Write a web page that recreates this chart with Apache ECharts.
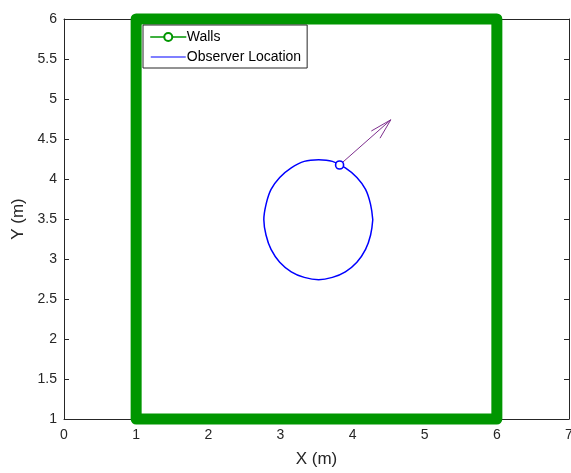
<!DOCTYPE html>
<html>
<head>
<meta charset="utf-8">
<script src="https://cdn.jsdelivr.net/npm/echarts@6/dist/echarts.min.js"></script>
<style>
  html, body { margin: 0; padding: 0; background: #fff; }
  #chart { width: 571px; height: 473px; }
</style>
</head>
<body>
<div id="chart"></div>
<script>
// Room boundary corners (m), traced as a closed outline
const wallX = [1, 1, 6, 6, 1];
const wallY = [1, 6, 6, 1, 1];

// Observer trajectory (m)
const pathX = [4.28, 4.25, 4.18, 4.06, 3.90, 3.72, 3.53, 3.33, 3.15, 2.99, 2.87, 2.80, 2.77,
               2.80, 2.87, 2.99, 3.15, 3.33, 3.53, 3.72, 3.90, 4.06, 4.18, 4.25, 4.28];
const pathY = [3.49, 3.68, 3.87, 4.02, 4.14, 4.22, 4.24, 4.22, 4.14, 4.02, 3.87, 3.68, 3.49,
               3.30, 3.12, 2.96, 2.84, 2.77, 2.74, 2.77, 2.84, 2.96, 3.12, 3.30, 3.49];

// Current observer position and heading vector
const obsPos = [3.82, 4.175];
const headTip = [4.53, 4.74];
const headBarbs = [[4.26, 4.60], [4.53, 4.74], [4.38, 4.51]];

const xTicks = { min: 0, max: 7, step: 1 };
const yTicks = { min: 1, max: 6, step: 0.5 };

const zip = (xs, ys) => xs.map((x, i) => [x, ys[i]]);

const axisColor = '#262626';
const wallColor = '#009600';
const pathColor = '#0000ff';
const headingColor = '#7e2f8e';
const labelFont = 'Liberation Sans, Arial, sans-serif';

const chart = echarts.init(document.getElementById('chart'), null, { renderer: 'canvas' });

const baseAxis = {
  axisLine: { show: true, onZero: false, lineStyle: { color: axisColor, width: 1 } },
  axisTick: { show: true, inside: true, length: 5, lineStyle: { color: axisColor } },
  splitLine: { show: false }
};

chart.setOption({
  animation: false,
  backgroundColor: '#ffffff',
  grid: { left: 64, right: 2, top: 19, bottom: 54, containLabel: false, outerBoundsMode: 'none' },
  legend: {
    orient: 'vertical',
    left: 143,
    top: 25,
    padding: [5, 6, 4, 7],
    itemGap: 6,
    itemWidth: 35,
    itemHeight: 10,
    backgroundColor: '#ffffff',
    borderColor: axisColor,
    borderWidth: 1,
    borderRadius: 0,
    textStyle: { fontFamily: labelFont, fontSize: 14, color: '#000', padding: [0, 0, 0, -4] },
    data: [
      { name: 'Walls', lineStyle: { width: 1.5, color: wallColor },
        itemStyle: { color: wallColor, borderColor: wallColor, borderWidth: 2 } },
      { name: 'Observer Location', lineStyle: { width: 1.2, color: pathColor },
        itemStyle: { opacity: 0 } }
    ]
  },
  xAxis: [
    Object.assign({}, baseAxis, {
      type: 'value', position: 'bottom', min: xTicks.min, max: xTicks.max, interval: xTicks.step,
      name: 'X (m)', nameLocation: 'middle', nameGap: 32,
      nameTextStyle: { fontFamily: labelFont, fontSize: 17, color: axisColor },
      axisLabel: { margin: 9, fontFamily: labelFont, fontSize: 14, color: axisColor }
    }),
    Object.assign({}, baseAxis, {
      type: 'value', position: 'top', min: xTicks.min, max: xTicks.max, interval: xTicks.step,
      axisLabel: { show: false }
    })
  ],
  yAxis: [
    Object.assign({}, baseAxis, {
      type: 'value', position: 'left', min: yTicks.min, max: yTicks.max, interval: yTicks.step,
      name: 'Y (m)', nameLocation: 'middle', nameGap: 37,
      nameTextStyle: { fontFamily: labelFont, fontSize: 17, color: axisColor },
      axisLabel: { margin: 7, fontFamily: labelFont, fontSize: 14, color: axisColor }
    }),
    Object.assign({}, baseAxis, {
      type: 'value', position: 'right', min: yTicks.min, max: yTicks.max, interval: yTicks.step,
      axisLabel: { show: false }
    })
  ],
  series: [
    {
      name: 'Walls',
      type: 'line',
      data: zip(wallX, wallY),
      clip: false,
      symbol: 'emptyCircle',
      symbolSize: 8,
      showSymbol: false,
      lineStyle: { color: wallColor, width: 11, cap: 'round', join: 'round' },
      itemStyle: { color: wallColor },
      z: 3
    },
    {
      name: 'Observer Location',
      type: 'line',
      data: zip(pathX, pathY),
      smooth: 0.4,
      symbol: 'circle',
      showSymbol: false,
      lineStyle: { color: pathColor, width: 1.5 },
      itemStyle: { color: pathColor },
      z: 4
    },
    {
      name: 'position',
      type: 'scatter',
      data: [obsPos],
      symbol: 'circle',
      symbolSize: 8,
      itemStyle: { color: '#ffffff', borderColor: pathColor, borderWidth: 1.6, opacity: 1 },
      z: 5
    },
    {
      name: 'heading',
      type: 'line',
      data: [obsPos, headTip],
      symbol: 'none',
      lineStyle: { color: headingColor, width: 1 },
      z: 4
    },
    {
      name: 'heading-head',
      type: 'line',
      data: headBarbs,
      symbol: 'none',
      lineStyle: { color: headingColor, width: 1 },
      z: 4
    }
  ]
});
</script>
</body>
</html>
